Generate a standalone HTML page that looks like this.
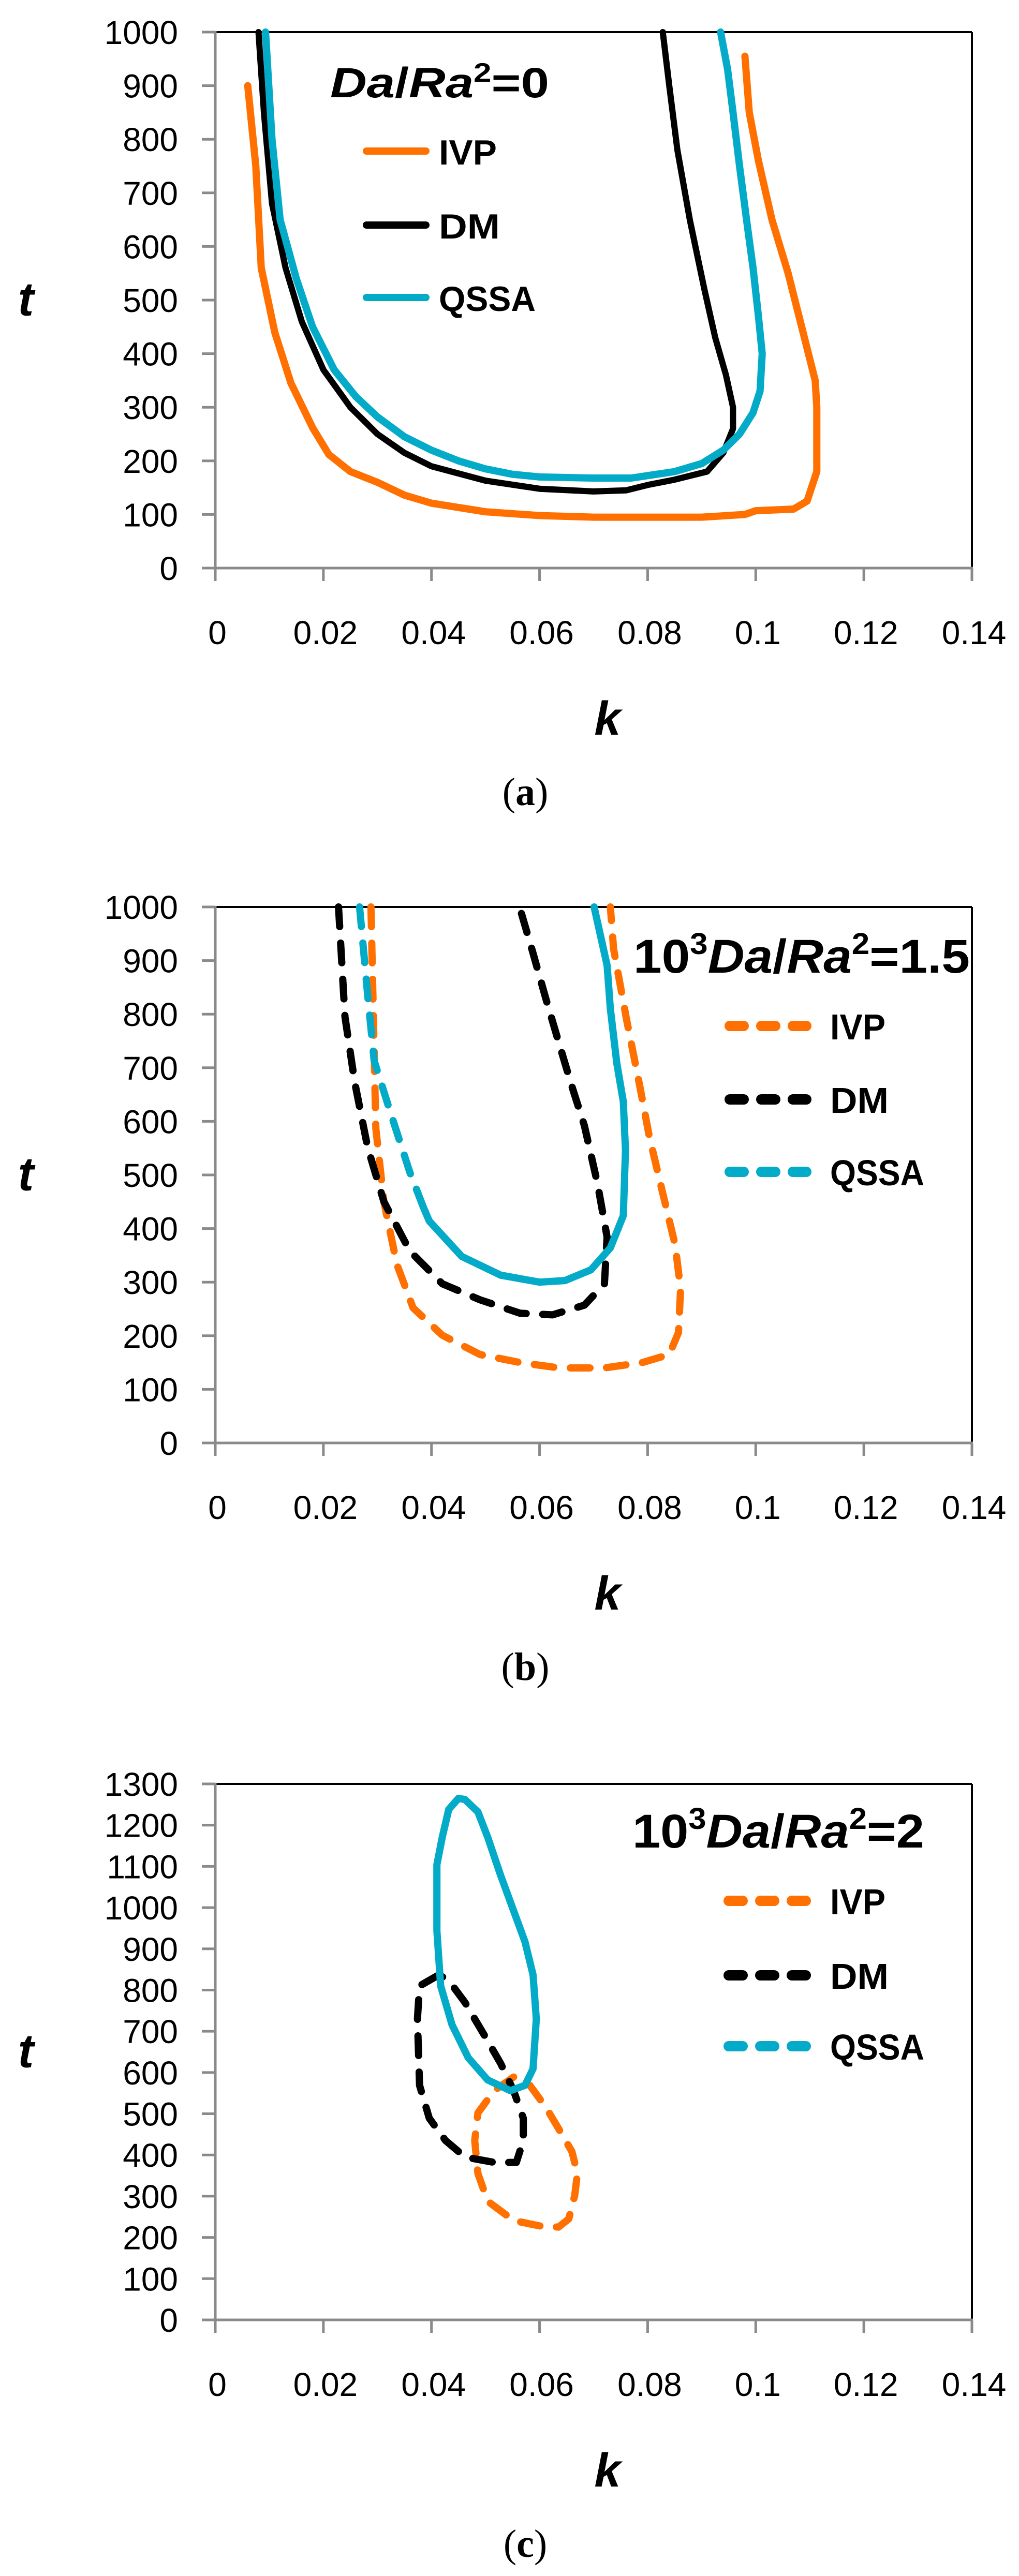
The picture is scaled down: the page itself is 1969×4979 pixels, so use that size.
<!DOCTYPE html>
<html><head><meta charset="utf-8"><style>
html,body{margin:0;padding:0;background:#fff;}
svg{display:block}
text{font-family:"Liberation Sans",sans-serif;}
</style></head><body>
<svg id="s" width="1969" height="4979" viewBox="0 0 1969 4979" xmlns="http://www.w3.org/2000/svg">
<rect width="1969" height="4979" fill="#fff"/>
<g id="g"></g>

<!-- Panel a texts -->
<text x="638" y="188" font-size="82" font-weight="bold" textLength="423" lengthAdjust="spacingAndGlyphs"><tspan font-style="italic">Da</tspan>/<tspan font-style="italic">Ra</tspan><tspan font-size="52" dy="-30">2</tspan><tspan dy="30">=0</tspan></text>
<text x="848" y="318" font-size="68" font-weight="bold" textLength="112" lengthAdjust="spacingAndGlyphs">IVP</text>
<text x="848" y="461" font-size="68" font-weight="bold" textLength="118" lengthAdjust="spacingAndGlyphs">DM</text>
<text x="848" y="601" font-size="68" font-weight="bold" textLength="187" lengthAdjust="spacingAndGlyphs">QSSA</text>

<!-- Panel b texts -->
<text x="1224" y="1880" font-size="92" font-weight="bold" textLength="650" lengthAdjust="spacingAndGlyphs">10<tspan font-size="58" dy="-36">3</tspan><tspan dy="36" font-style="italic">Da</tspan>/<tspan font-style="italic">Ra</tspan><tspan font-size="58" dy="-36">2</tspan><tspan dy="36">=1.5</tspan></text>
<text x="1604" y="2009" font-size="70" font-weight="bold" textLength="107" lengthAdjust="spacingAndGlyphs">IVP</text>
<text x="1604" y="2151" font-size="70" font-weight="bold" textLength="113" lengthAdjust="spacingAndGlyphs">DM</text>
<text x="1604" y="2291" font-size="70" font-weight="bold" textLength="182" lengthAdjust="spacingAndGlyphs">QSSA</text>

<!-- Panel c texts -->
<text x="1222" y="3571" font-size="92" font-weight="bold" textLength="564" lengthAdjust="spacingAndGlyphs">10<tspan font-size="58" dy="-36">3</tspan><tspan dy="36" font-style="italic">Da</tspan>/<tspan font-style="italic">Ra</tspan><tspan font-size="58" dy="-36">2</tspan><tspan dy="36">=2</tspan></text>
<text x="1604" y="3700" font-size="70" font-weight="bold" textLength="107" lengthAdjust="spacingAndGlyphs">IVP</text>
<text x="1604" y="3844" font-size="70" font-weight="bold" textLength="113" lengthAdjust="spacingAndGlyphs">DM</text>
<text x="1604" y="3981" font-size="70" font-weight="bold" textLength="182" lengthAdjust="spacingAndGlyphs">QSSA</text>
</svg>
<script>
var NS="http://www.w3.org/2000/svg";
var g=document.getElementById("g");
function el(tag,attrs,txt){var e=document.createElementNS(NS,tag);for(var k in attrs)e.setAttribute(k,attrs[k]);if(txt!==undefined)e.textContent=txt;g.appendChild(e);return e;}
var L=416,R=1878,OR="#ff7000",CY="#03abc8";
function panel(top,bottom,tmax,step,cap){
  var P={top:top,bottom:bottom,tmax:tmax};
  P.X=function(k){return L+k/0.14*(R-L);};
  P.Y=function(t){return bottom-t/tmax*(bottom-top);};
  // frame
  el("line",{x1:L,y1:top,x2:R,y2:top,stroke:"#000","stroke-width":4});
  el("line",{x1:R,y1:top,x2:R,y2:bottom,stroke:"#000","stroke-width":4});
  el("line",{x1:L,y1:top-2,x2:L,y2:bottom+25,stroke:"#8a8a8a","stroke-width":5});
  el("line",{x1:390,y1:bottom,x2:R+2,y2:bottom,stroke:"#8a8a8a","stroke-width":5});
  for(var t=0;t<=tmax;t+=step){
    var y=P.Y(t);
    el("line",{x1:390,y1:y,x2:L,y2:y,stroke:"#8a8a8a","stroke-width":5});
    el("text",{x:344,y:y+23,"font-size":64,"text-anchor":"end"},String(t));
  }
  var labs=["0","0.02","0.04","0.06","0.08","0.1","0.12","0.14"];
  for(var i=0;i<8;i++){
    var x=P.X(i*0.02);
    el("line",{x1:x,y1:bottom,x2:x,y2:bottom+25,stroke:"#8a8a8a","stroke-width":5});
    el("text",{x:x+4,y:bottom+147,"font-size":64,"text-anchor":"middle"},labs[i]);
  }
  el("text",{x:1174,y:bottom+322,"font-size":92,"font-weight":"bold","font-style":"italic","text-anchor":"middle"},"k");
  el("text",{x:50,y:P.Y(tmax/2)+30,"font-size":92,"font-weight":"bold","font-style":"italic","text-anchor":"middle"},"t");
  var c=el("text",{x:1015,y:bottom+458,"font-size":76,"text-anchor":"middle","style":"font-family:'Liberation Serif',serif"},"");
  c.innerHTML='(<tspan font-weight="bold">'+cap+'</tspan>)';
  return P;
}
function curve(P,pts,color,dash,close,w){
  var d="";
  for(var i=0;i<pts.length;i++){d+=(i?"L":"M")+P.X(pts[i][0]).toFixed(1)+","+P.Y(pts[i][1]).toFixed(1);}
  if(close)d+="Z";
  var a={d:d,fill:"none",stroke:color,"stroke-width":w||14,"stroke-linejoin":"round","stroke-linecap":"round"};
  if(dash)a["stroke-dasharray"]="38 32";
  el("path",a);
}
function legend(x1,x2,ys,dash){
  var cols=[OR,"#000",CY];
  for(var i=0;i<3;i++){
    var a={x1:x1+10,y1:ys[i],x2:x2-10,y2:ys[i],stroke:cols[i],"stroke-width":dash?20:14,"stroke-linecap":"round"};
    if(dash){a["stroke-dasharray"]="27 34";}
    el("line",a);
  }
}
// Panel a
var A=panel(62,1098,1000,100,"a");
curve(A,[[0.006,900],[0.0075,750],[0.0085,560],[0.011,440],[0.014,345],[0.018,262],[0.021,212],[0.025,180],[0.03,160],[0.035,136],[0.04,121],[0.05,105],[0.06,98],[0.07,95],[0.08,95],[0.09,95],[0.098,100],[0.1,107],[0.107,110],[0.1095,125],[0.1113,180],[0.1113,300],[0.111,350],[0.109,430],[0.106,550],[0.103,650],[0.1005,760],[0.0988,850],[0.098,955]],OR,false,false,14);
curve(A,[[0.008,1000],[0.009,850],[0.0105,680],[0.013,560],[0.016,460],[0.02,370],[0.025,300],[0.03,250],[0.035,215],[0.04,190],[0.05,163],[0.06,148],[0.07,143],[0.076,145],[0.08,155],[0.085,165],[0.091,180],[0.094,215],[0.0958,260],[0.0958,300],[0.0945,360],[0.0925,430],[0.0905,520],[0.0878,650],[0.0855,780],[0.084,900],[0.0828,1000]],"#000",false,false,12);
curve(A,[[0.0093,1000],[0.0105,800],[0.012,650],[0.015,540],[0.018,450],[0.022,370],[0.026,320],[0.03,282],[0.035,245],[0.04,220],[0.045,200],[0.05,185],[0.055,175],[0.06,170],[0.07,168],[0.077,168],[0.085,180],[0.09,195],[0.094,220],[0.097,250],[0.0995,290],[0.1008,330],[0.1012,400],[0.1005,470],[0.0995,560],[0.0983,650],[0.097,750],[0.0958,850],[0.0948,930],[0.0935,1000]],CY,false,false,14);
legend(698,833,[292,435,575],false);

// Panel b
var B=panel(1753,2789,1000,100,"b");
curve(B,[[0.0288,1000],[0.0294,729],[0.0297,587],[0.0312,450],[0.0336,333],[0.0366,252],[0.042,201],[0.049,165],[0.0564,150],[0.0636,140],[0.072,140],[0.079,150],[0.084,165],[0.0857,206],[0.0861,287],[0.0851,369],[0.0827,470],[0.0803,572],[0.0785,668],[0.0761,790],[0.0737,922],[0.0731,1000]],OR,true,false,14);
curve(B,[[0.0228,1000],[0.024,795],[0.0258,673],[0.0282,551],[0.0312,450],[0.036,358],[0.042,297],[0.049,267],[0.0564,242],[0.0624,239],[0.0683,257],[0.072,297],[0.0725,384],[0.0707,485],[0.0683,592],[0.0659,668],[0.0635,749],[0.0611,831],[0.0587,917],[0.0563,1000]],"#000",true,false,14);
curve(B,[[0.0267,1000],[0.0282,835],[0.0294,713],[0.0324,617],[0.036,505],[0.0385,440]],CY,true,false,14);
curve(B,[[0.0385,440],[0.0396,414],[0.0456,348],[0.0528,313],[0.06,300],[0.0647,303],[0.0695,323],[0.0731,364],[0.0755,424],[0.0759,546],[0.0755,637],[0.0743,708],[0.0731,810],[0.0725,891],[0.0701,1000]],CY,false,false,14);
legend(1400,1568,[1983,2125,2265],true);

// Panel c
var C=panel(3448,4484,1300,100,"c");
curve(C,[[0.0552,589],[0.0516,556],[0.0486,502],[0.048,435],[0.0486,355],[0.0504,288],[0.0552,241],[0.06,228],[0.0635,225],[0.0654,245],[0.0665,301],[0.067,355],[0.066,408],[0.0636,462],[0.0612,515],[0.0582,569]],OR,true,true,14);
curve(C,[[0.0414,837],[0.0378,810],[0.0374,730],[0.0378,569],[0.0396,489],[0.0426,435],[0.0462,395],[0.0516,382],[0.0557,382],[0.057,435],[0.057,489],[0.0552,556],[0.0528,622],[0.0498,690],[0.0462,770],[0.0432,823]],"#000",true,true,14);
curve(C,[[0.045,1265],[0.0432,1238],[0.042,1171],[0.041,1104],[0.041,944],[0.0417,810],[0.0438,716],[0.0468,636],[0.0504,582],[0.0546,556],[0.0573,569],[0.0588,609],[0.0594,730],[0.0588,837],[0.0573,917],[0.0558,971],[0.0528,1078],[0.0504,1171],[0.0486,1232],[0.0462,1262]],CY,false,true,14);
legend(1398,1568,[3674,3818,3955],true);
</script>
</body></html>
